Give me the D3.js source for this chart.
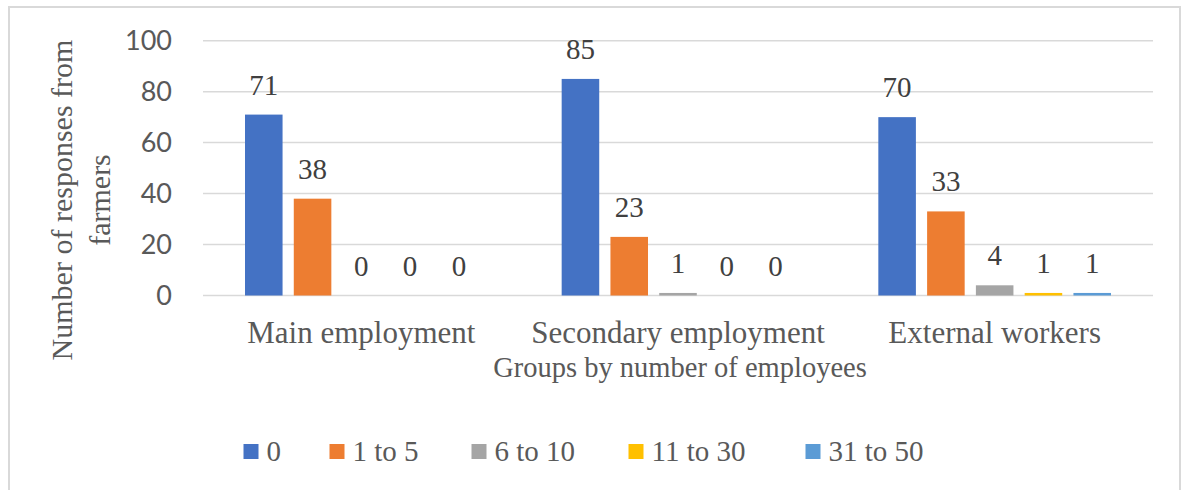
<!DOCTYPE html>
<html>
<head>
<meta charset="utf-8">
<script src="https://cdn.jsdelivr.net/npm/d3@7"></script>
<style>
  body { margin: 0; background: #fff; }
</style>
</head>
<body>
<div id="chart"></div>
<script>
const categories = ["Main employment", "Secondary employment", "External workers"];
const seriesNames = ["0", "1 to 5", "6 to 10", "11 to 30", "31 to 50"];
const mainEmployment = [71, 38, 0, 0, 0];
const secondaryEmployment = [85, 23, 1, 0, 0];
const externalWorkers = [70, 33, 4, 1, 1];
const yTicks = [0, 20, 40, 60, 80, 100];

const groupValues = [mainEmployment, secondaryEmployment, externalWorkers];
const colors = ["#4472C4", "#ED7D31", "#A5A5A5", "#FFC000", "#5B9BD5"];

const width = 1181, height = 490;
const textColor = "#595959";
const serifFont = "'Liberation Serif'";

const svg = d3.select("#chart").append("svg")
  .attr("width", width)
  .attr("height", height);

// outer chart border
svg.append("rect")
  .attr("x", 9).attr("y", 7)
  .attr("width", 1171).attr("height", 500)
  .attr("fill", "#fff")
  .attr("stroke", "#d9d9d9")
  .attr("stroke-width", 2);

const x0 = d3.scaleBand().domain(categories).range([203, 1153]);
const x1 = d3.scaleBand().domain(seriesNames)
  .range([42, x0.bandwidth() - 42])
  .paddingInner(0.23);
const y = d3.scaleLinear().domain([0, 100]).range([295.5, 40.7]);
const color = d3.scaleOrdinal().domain(seriesNames).range(colors);

// y axis title (serif text drawn first)
const yTitle = svg.append("text")
  .attr("transform", "translate(72,200) rotate(-90)")
  .attr("text-anchor", "middle")
  .style("font-family", serifFont)
  .attr("font-size", 30)
  .attr("fill", textColor);
yTitle.append("tspan").attr("x", 0).attr("dy", 0).text("Number of responses from");
yTitle.append("tspan").attr("x", 0).attr("dy", 38).text("farmers");

// gridlines
svg.append("g")
  .selectAll("line")
  .data(yTicks)
  .join("line")
  .attr("x1", 203).attr("x2", 1153)
  .attr("y1", d => y(d)).attr("y2", d => y(d))
  .attr("stroke", "#d9d9d9")
  .attr("stroke-width", 1.5);

// bars
const groups = svg.append("g")
  .selectAll("g")
  .data(categories.map((c, i) => ({ cat: c, values: groupValues[i] })))
  .join("g")
  .attr("transform", d => "translate(" + x0(d.cat) + ",0)");

groups.selectAll("rect")
  .data(d => d.values.map((v, j) => ({ key: seriesNames[j], value: v })))
  .join("rect")
  .attr("x", d => x1(d.key))
  .attr("y", d => y(d.value))
  .attr("width", x1.bandwidth())
  .attr("height", d => y(0) - y(d.value))
  .attr("fill", d => color(d.key));

groups.selectAll("text")
  .data(d => d.values.map((v, j) => ({ key: seriesNames[j], value: v })))
  .join("text")
  .attr("x", d => x1(d.key) + x1.bandwidth() / 2)
  .attr("y", d => y(d.value) - 20)
  .attr("text-anchor", "middle")
  .style("font-family", serifFont)
  .attr("font-size", 29)
  .attr("fill", "#404040")
  .text(d => d.value);

// category labels
svg.append("g")
  .selectAll("text")
  .data(categories)
  .join("text")
  .attr("x", d => x0(d) + x0.bandwidth() / 2)
  .attr("y", 343)
  .attr("text-anchor", "middle")
  .style("font-family", serifFont)
  .attr("font-size", 31)
  .attr("fill", textColor)
  .text(d => d);

// x axis title
svg.append("text")
  .attr("x", 680)
  .attr("y", 377)
  .attr("text-anchor", "middle")
  .style("font-family", serifFont)
  .attr("font-size", 28.5)
  .attr("fill", textColor)
  .text("Groups by number of employees");

// legend
const legendWidths = [36, 92, 107, 127, 128];
const swatch = 15, textGap = 8, itemGap = 27;
const itemWidths = legendWidths.map(w => swatch + textGap + w);
const legendTotal = d3.sum(itemWidths) + itemGap * (seriesNames.length - 1);
const legendStart = 600 - legendTotal / 2;
const itemX = seriesNames.map((s, i) => legendStart + d3.sum(itemWidths.slice(0, i)) + itemGap * i);

const items = svg.append("g")
  .selectAll("g")
  .data(seriesNames)
  .join("g")
  .attr("transform", (d, i) => "translate(" + itemX[i] + ",0)");
items.append("rect")
  .attr("y", 444)
  .attr("width", swatch).attr("height", swatch)
  .attr("fill", d => color(d));
items.append("text")
  .attr("x", swatch + textGap)
  .attr("y", 461)
  .style("font-family", serifFont)
  .attr("font-size", 29)
  .attr("fill", textColor)
  .text(d => d);

// y tick labels (sans)
svg.append("g")
  .selectAll("text")
  .data(yTicks)
  .join("text")
  .attr("x", 172)
  .attr("y", d => y(d))
  .attr("dy", "0.35em")
  .attr("text-anchor", "end")
  .style("font-family", "'Lato'")
  .attr("font-size", 27)
  .attr("fill", textColor)
  .text(d => d);
</script>
</body>
</html>
